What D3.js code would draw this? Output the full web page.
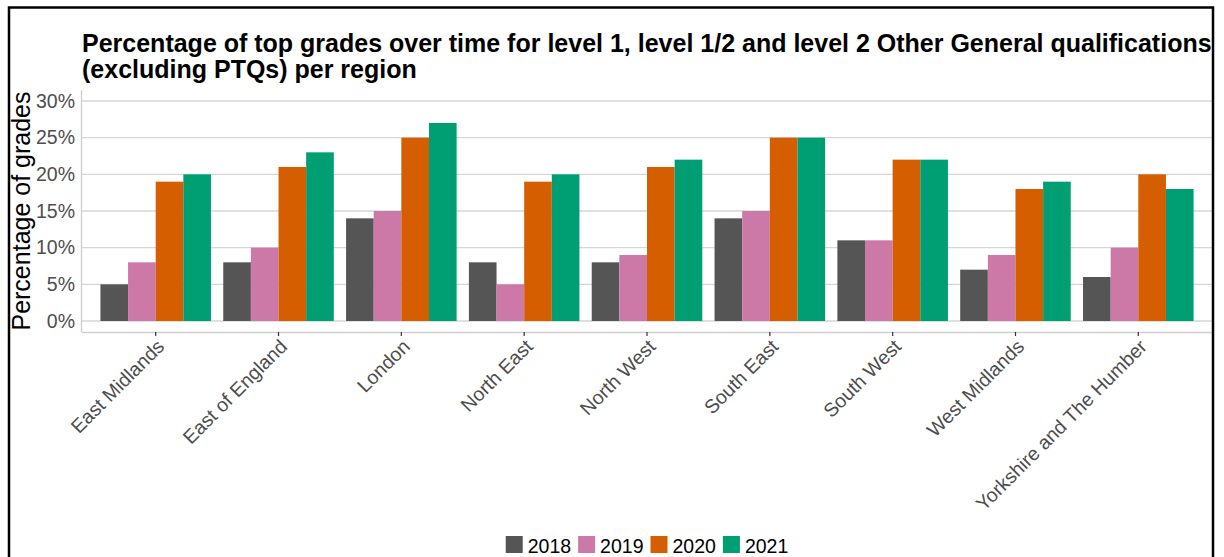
<!DOCTYPE html>
<html>
<head>
<meta charset="utf-8">
<script src="https://cdn.jsdelivr.net/npm/d3@7"></script>
<style>
  html, body { margin: 0; padding: 0; background: #fff; }
  svg { display: block; font-family: "Liberation Sans", Arial, sans-serif; }
</style>
</head>
<body>
<svg id="chart" width="1224" height="557"></svg>
<script>
// Regions and yearly percentage of top grades
const regions = ["East Midlands", "East of England", "London", "North East", "North West",
                 "South East", "South West", "West Midlands", "Yorkshire and The Humber"];
const years = ["2018", "2019", "2020", "2021"];
const values2018 = [5, 8, 14, 8, 8, 14, 11, 7, 6];
const values2019 = [8, 10, 15, 5, 9, 15, 11, 9, 10];
const values2020 = [19, 21, 25, 19, 21, 25, 22, 18, 20];
const values2021 = [20, 23, 27, 20, 22, 25, 22, 19, 18];
const yTicks = [0, 5, 10, 15, 20, 25, 30];
const yearColors = ["#555555", "#CC79A7", "#D55E00", "#009E73"];

const titleLines = [
  "Percentage of top grades over time for level 1, level 1/2 and level 2 Other General qualifications",
  "(excluding PTQs) per region"
];
const yTitle = "Percentage of grades";

const seriesByYear = [values2018, values2019, values2020, values2021];
const rows = regions.map((r, i) => ({
  region: r,
  vals: years.map((y, j) => ({ year: y, value: seriesByYear[j][i] }))
}));

const svg = d3.select("#chart");
const panel = { left: 82, right: 1212, top: 90, bottom: 332 };

// Scales: band per region, sub-band per year; y limits 0-30 with 5% expansion
const x = d3.scaleBand().domain(regions).range([panel.left, panel.right])
  .paddingInner(0.1).paddingOuter(0.15);
const xInner = d3.scaleBand().domain(years).range([0, x.bandwidth()]).padding(0);
const y = d3.scaleLinear().domain([-1.5, 31.5]).range([panel.bottom, panel.top]);
const color = d3.scaleOrdinal().domain(years).range(yearColors);

// Horizontal gridlines
svg.append("g").selectAll("line").data(yTicks).join("line")
  .attr("x1", panel.left).attr("x2", panel.right)
  .attr("y1", d => y(d)).attr("y2", d => y(d))
  .attr("stroke", "#d6d6d6").attr("stroke-width", 1.4);

// Bars
svg.append("g").selectAll("g").data(rows).join("g")
  .attr("transform", d => `translate(${x(d.region)},0)`)
  .selectAll("rect").data(d => d.vals).join("rect")
  .attr("x", d => xInner(d.year))
  .attr("width", xInner.bandwidth())
  .attr("y", d => y(d.value))
  .attr("height", d => y(0) - y(d.value))
  .attr("fill", d => color(d.year));

// Left axis line
svg.append("line")
  .attr("x1", panel.left - 0.5).attr("x2", panel.left - 0.5)
  .attr("y1", panel.top).attr("y2", panel.bottom)
  .attr("stroke", "#cfcfcf").attr("stroke-width", 1.4);

// Y axis labels
const yAxis = svg.append("g")
  .attr("transform", `translate(${panel.left},0)`)
  .call(d3.axisLeft(y).tickValues(yTicks).tickFormat(d => d + "%").tickSize(0).tickPadding(7));
yAxis.select(".domain").remove();
yAxis.selectAll("text")
  .attr("font-size", 19.5).attr("fill", "#4d4d4d")
  .attr("font-family", "'Liberation Sans', Arial, sans-serif");

// X axis with rotated labels
const xAxis = svg.append("g")
  .attr("transform", `translate(0,${panel.bottom})`)
  .call(d3.axisBottom(x).tickSizeOuter(0).tickSize(4));
xAxis.select(".domain").attr("stroke", "#cfcfcf").attr("stroke-width", 1.4)
  .attr("d", `M${panel.left},0.5H${panel.right}`);
xAxis.selectAll(".tick line").attr("stroke", "#333").attr("stroke-width", 1.2);
xAxis.selectAll("text")
  .attr("font-size", 19.5).attr("fill", "#4d4d4d")
  .attr("font-family", "'Liberation Sans', Arial, sans-serif")
  .attr("text-anchor", "end")
  .attr("x", 0).attr("y", 0).attr("dy", "0.71em")
  .attr("transform", "translate(0,6) rotate(-45)");

// Y axis title
svg.append("text")
  .attr("transform", `translate(30,${(panel.top + panel.bottom) / 2}) rotate(-90)`)
  .attr("text-anchor", "middle")
  .attr("font-size", 25).attr("fill", "#000")
  .text(yTitle);

// Title
svg.append("g").selectAll("text").data(titleLines).join("text")
  .attr("x", panel.left).attr("y", (d, i) => 52 + i * 26)
  .attr("font-size", 25).attr("font-weight", "bold").attr("fill", "#000")
  .text(d => d);

// Legend centred under the panel
const legend = svg.append("g");
const items = legend.selectAll("g").data(years).join("g");
items.append("rect").attr("width", 17).attr("height", 17).attr("y", 536)
  .attr("fill", d => color(d));
items.append("text").attr("x", 22).attr("y", 553)
  .attr("font-size", 19.5).attr("fill", "#000").text(d => d);
const widths = [];
items.each(function () {
  const w = this.querySelector("text").getComputedTextLength();
  widths.push(22 + w);
});
const gap = 7;
const total = d3.sum(widths) + gap * (widths.length - 1);
let cursor = (panel.left + panel.right) / 2 - total / 2;
items.attr("transform", (d, i) => {
  const t = `translate(${cursor},0)`;
  cursor += widths[i] + gap;
  return t;
});

// Outer frame
svg.append("rect")
  .attr("x", 9).attr("y", 7.5).attr("width", 1204).attr("height", 620)
  .attr("fill", "none").attr("stroke", "#000").attr("stroke-width", 2.5);
</script>
</body>
</html>
